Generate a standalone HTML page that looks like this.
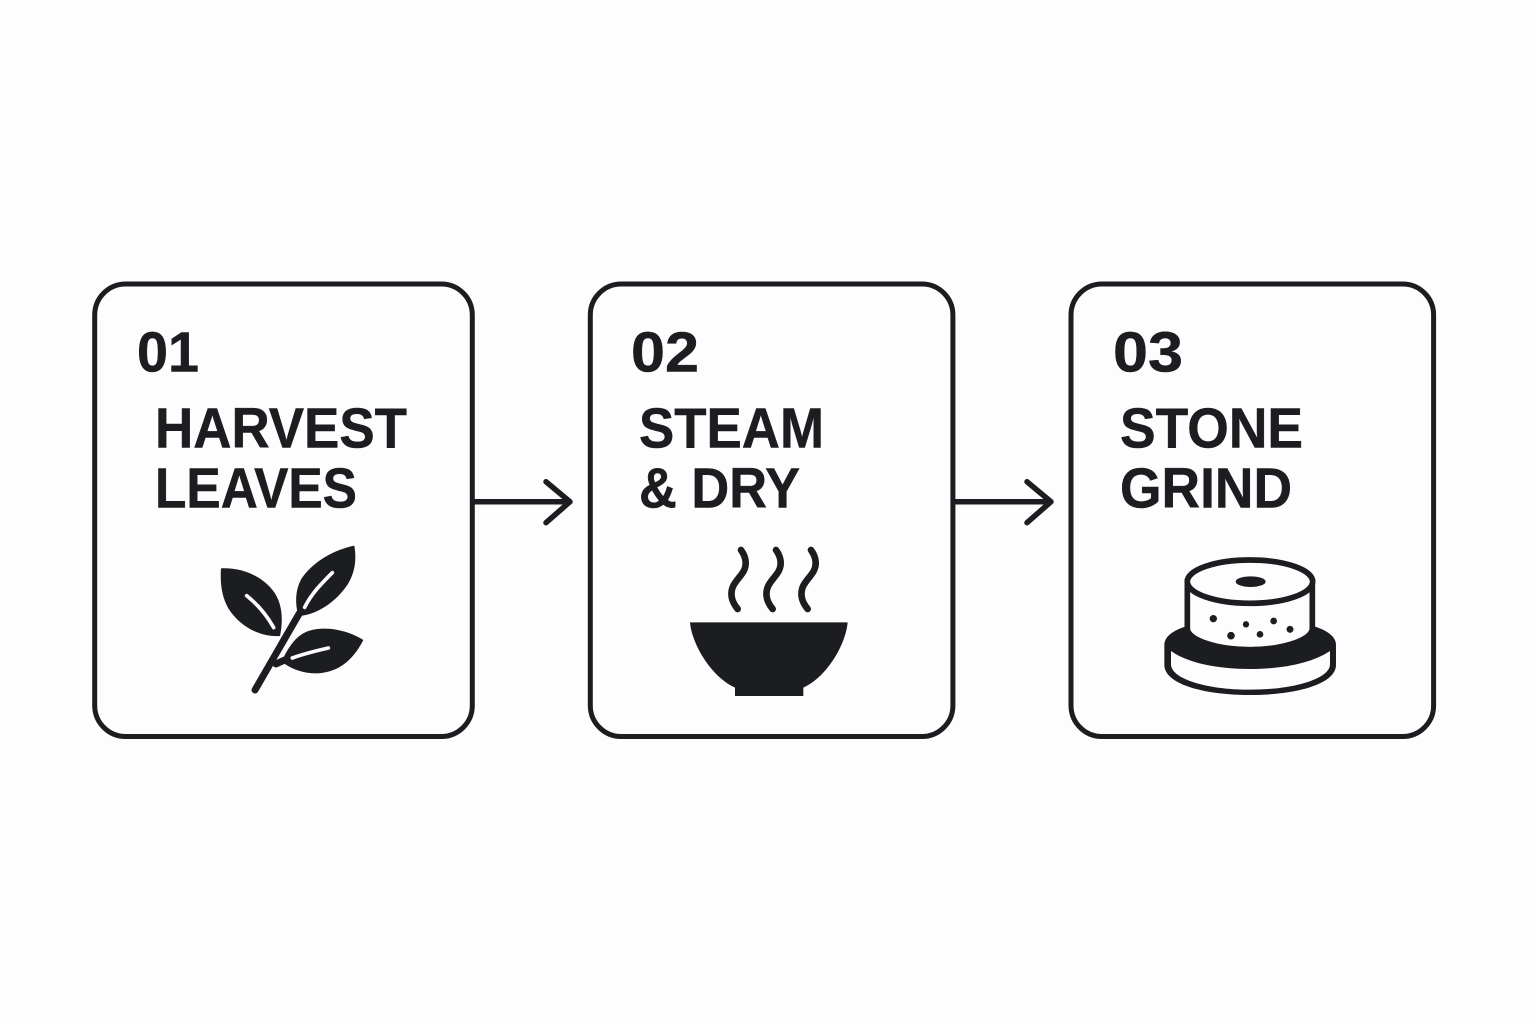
<!DOCTYPE html>
<html><head><meta charset="utf-8"><style>html,body{margin:0;padding:0;background:#fdfdfd}svg{display:block}text{font-family:"Liberation Sans",sans-serif;font-weight:700;fill:#1c1d20;stroke:#1c1d20;stroke-width:.5px;font-size:57px}</style></head><body>
<svg width="1536" height="1024" viewBox="0 0 1536 1024" xmlns="http://www.w3.org/2000/svg">
<rect width="1536" height="1024" fill="#fdfdfd"/>
<g fill="none" stroke="#1c1d20" stroke-width="5">
<rect x="94.7" y="284" width="377.6" height="452.5" rx="31"/>
<rect x="590.3" y="284" width="362.6" height="452.5" rx="31"/>
<rect x="1071" y="284" width="362.6" height="452.5" rx="31"/>
</g>
<g fill="none" stroke="#1c1d20" stroke-width="5.5" stroke-linecap="round" stroke-linejoin="round">
<path d="M474 501.7H569M546 481.7L570 501.7L546 522.7"/>
<path d="M955 501.7H1050M1027 481.7L1051 501.7L1027 522.7"/>
</g>
<text x="137" y="371.5" textLength="62" lengthAdjust="spacingAndGlyphs">01</text>
<text x="155" y="447.5" textLength="252" lengthAdjust="spacingAndGlyphs">HARVEST</text>
<text x="155" y="507.7" textLength="202" lengthAdjust="spacingAndGlyphs">LEAVES</text>
<text x="631" y="371.5" textLength="68" lengthAdjust="spacingAndGlyphs">02</text>
<text x="639" y="447.5" textLength="185" lengthAdjust="spacingAndGlyphs">STEAM</text>
<text x="639" y="507.7" textLength="161" lengthAdjust="spacingAndGlyphs">&amp; DRY</text>
<text x="1113" y="371.5" textLength="70" lengthAdjust="spacingAndGlyphs">03</text>
<text x="1120" y="447.5" textLength="183" lengthAdjust="spacingAndGlyphs">STONE</text>
<text x="1120" y="507.7" textLength="172" lengthAdjust="spacingAndGlyphs">GRIND</text>
<!-- leaf -->
<g transform="translate(200,530) scale(.3333)">
<path d="M165 480L298 250M228 402L268 384" fill="none" stroke="#1c1d20" stroke-width="21" stroke-linecap="round"/>
<path fill="#1c1d20" d="M63 115C130 112 190 140 225 190C250 230 248 280 240 318C180 322 120 290 85 235C65 200 60 160 63 115Z"/>
<path fill="#1c1d20" d="M463 47C400 60 340 95 305 145C285 180 285 220 295 258C350 255 410 215 445 160C465 125 470 90 463 47Z"/>
<path fill="#1c1d20" d="M490 330C450 305 385 285 325 303C290 315 265 350 245 395C290 430 350 440 400 420C440 405 470 370 490 330Z"/>
<g fill="none" stroke="#fdfdfd" stroke-width="11" stroke-linecap="round">
<path d="M140 197C175 225 200 255 221 293"/>
<path d="M397 128C365 160 335 190 314 232"/>
<path d="M277 384C315 370 350 362 385 354"/>
</g>
</g>
<!-- bowl -->
<g transform="translate(680,535) scale(.3333)">
<g fill="none" stroke="#1c1d20" stroke-width="20" stroke-linecap="round">
<path d="M183 45C198 65 202 90 190 110C175 135 150 150 155 185C157 200 165 212 173 222"/>
<path d="M288 45C303 65 307 90 295 110C280 135 255 150 260 185C262 200 270 212 278 222"/>
<path d="M393 45C408 65 412 90 400 110C385 135 360 150 365 185C367 200 375 212 383 222"/>
</g>
<path fill="#1c1d20" d="M30 262H503C498 325 443 425 370 458V483H165V458C92 425 35 325 30 262Z"/>
</g>
<!-- grinder -->
<g transform="translate(1155,545) scale(.3333)">
<path fill="#1c1d20" d="M28 300C28 250 130 222 285 222C440 222 543 250 543 300V360C543 415 430 450 285 450C140 450 28 415 28 360Z"/>
<path fill="#fdfdfd" d="M48 318C100 355 190 372 285 372C380 372 470 355 525 318V358C525 400 420 434 285 434C150 434 48 400 48 358Z"/>
<path fill="#fdfdfd" stroke="#1c1d20" stroke-width="17" d="M97 110V250C97 285 185 314 285 314C385 314 472 285 472 250V110Z"/>
<ellipse cx="285" cy="110" rx="188" ry="65" fill="#fdfdfd" stroke="#1c1d20" stroke-width="17"/>
<ellipse cx="287" cy="110" rx="45" ry="16" fill="#1c1d20"/>
<g fill="#1c1d20">
<circle cx="175" cy="221" r="11"/><circle cx="273" cy="238" r="9.5"/><circle cx="356" cy="228" r="10"/><circle cx="405" cy="253" r="10.5"/><circle cx="228" cy="272" r="11.5"/><circle cx="315" cy="268" r="10"/>
</g>
</g>
</svg>
</body></html>
